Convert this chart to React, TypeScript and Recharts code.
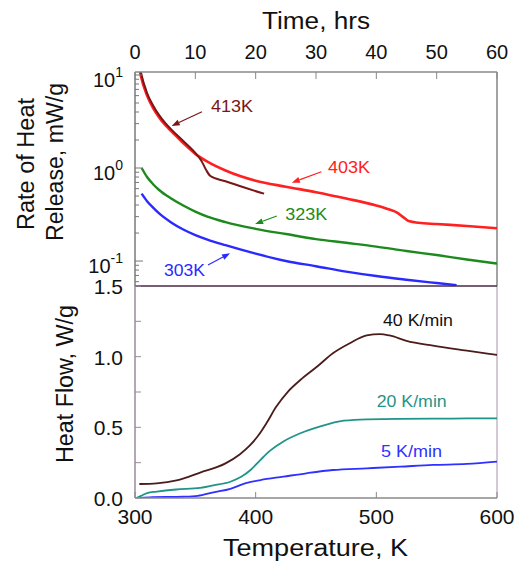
import React from 'react';
import { LineChart, Line, XAxis, YAxis, ReferenceLine, ReferenceDot } from 'recharts';

const FONT = '"Liberation Sans", Arial, Helvetica, sans-serif';

// top panel: rate of heat release (mW/g) vs time (hrs), log axis
const TIME_TICKS = [0, 10, 20, 30, 40, 50, 60];
const RATE_TICKS = [
  0.06, 0.07, 0.08, 0.09, 0.1, 0.2, 0.3, 0.4, 0.5, 0.6, 0.7, 0.8, 0.9,
  1, 2, 3, 4, 5, 6, 7, 8, 9, 10,
];
const RATE_MAJOR = [0.1, 1, 10];
const RATE_EXP = ['-1', '0', '1'];
const RATE_MIN = 0.0539;
const RATE_MAX = 10.77;

const K413: [number, number][] = [
  [0.7, 13], [1, 10.5], [2, 6.4], [3, 4.7], [4, 3.7], [5, 3.05], [6, 2.6], [8, 1.95],
  [10, 1.45], [11, 1.2], [11.8, 0.95], [12.5, 0.82], [15, 0.72], [18, 0.62], [21.4, 0.53],
];
const K403: [number, number][] = [
  [0.7, 12], [1, 9.6], [2, 6.0], [3, 4.4], [4, 3.5], [5, 2.9], [6, 2.5], [8, 1.85],
  [10, 1.42], [12, 1.17], [15, 0.94], [20, 0.73], [25, 0.63], [30, 0.55], [35, 0.47],
  [40, 0.395], [42, 0.36], [43.5, 0.33], [44.5, 0.295], [45.5, 0.267], [47, 0.258],
  [50, 0.25], [55, 0.238], [60, 0.225],
];
const K323: [number, number][] = [
  [1.1, 1.0], [2, 0.8], [3, 0.67], [4, 0.58], [6, 0.47], [8, 0.395], [10, 0.34],
  [12, 0.3], [15, 0.262], [20, 0.222], [25, 0.195], [30, 0.172], [35, 0.157],
  [40, 0.143], [45, 0.128], [50, 0.116], [55, 0.104], [60, 0.094],
];
const K303: [number, number][] = [
  [1.1, 0.53], [2, 0.44], [3, 0.375], [4, 0.325], [6, 0.26], [8, 0.218], [10, 0.19],
  [12, 0.17], [15, 0.148], [20, 0.12], [25, 0.1], [30, 0.088], [35, 0.077],
  [40, 0.069], [45, 0.063], [50, 0.058], [53.3, 0.055],
];

// bottom panel: heat flow (W/g) vs temperature (K)
const TEMP_TICKS = [300, 400, 500, 600];
const FLOW_TICKS = [0, 0.25, 0.5, 0.75, 1, 1.25, 1.5];

const R40: [number, number][] = [
  [303.6, 0.099], [318, 0.104], [334.5, 0.125], [354, 0.18], [375, 0.245], [387, 0.31],
  [395, 0.37], [402, 0.44], [409, 0.53], [417, 0.645], [427, 0.755], [437, 0.835],
  [451, 0.93], [464, 1.024], [478, 1.095], [492, 1.15], [503, 1.16], [511, 1.15],
  [525, 1.112], [547, 1.078], [575, 1.043], [600, 1.012],
];
const R20: [number, number][] = [
  [301, 0], [305, 0.015], [310, 0.035], [318, 0.045], [334, 0.06], [354, 0.072],
  [365, 0.09], [379, 0.115], [388, 0.15], [396, 0.2], [404, 0.27], [412, 0.335],
  [423, 0.4], [437, 0.458], [453, 0.505], [473, 0.547], [492, 0.557], [547, 0.561],
  [575, 0.564], [600, 0.564],
];
const R5: [number, number][] = [
  [301, 0], [312, 0.005], [340, 0.009], [352, 0.015], [365, 0.04], [379, 0.065],
  [390, 0.1], [404, 0.127], [423, 0.151], [442, 0.175], [464, 0.198], [492, 0.21],
  [520, 0.222], [547, 0.234], [575, 0.241], [600, 0.257],
];

const TOP_SERIES = [
  { name: '303K', pts: K303, color: '#2a2aff', width: 2.4 },
  { name: '323K', pts: K323, color: '#1c8a1c', width: 2.4 },
  { name: '403K', pts: K403, color: '#ff2020', width: 2.6 },
  { name: '413K', pts: K413, color: '#7a1616', width: 2 },
];
const BOTTOM_SERIES = [
  { name: '5 K/min', pts: R5, color: '#3030ff', width: 1.8 },
  { name: '20 K/min', pts: R20, color: '#1f9488', width: 1.8 },
  { name: '40 K/min', pts: R40, color: '#4a1c1c', width: 1.8 },
];

// annotation labels: text anchor point and arrow (from -> to), in data units
const TOP_NOTES = [
  { text: '413K', color: '#7a1616', at: [12.6, 4.53], len: 42, from: [11.1, 4.03], to: [6.08, 2.83] },
  { text: '403K', color: '#ff2020', at: [32.0, 1.025], len: 42, from: [30.9, 0.913], to: [26.0, 0.695] },
  { text: '323K', color: '#1c8a1c', at: [24.9, 0.32], len: 42, from: [23.5, 0.305], to: [19.9, 0.25] },
  { text: '303K', color: '#2a2aff', at: [4.8, 0.08], len: 41, from: [12.1, 0.0906], to: [15.75, 0.121] },
];
const BOTTOM_NOTES = [
  { text: '40 K/min', color: '#111111', at: [505.5, 1.255], len: 70 },
  { text: '20 K/min', color: '#1f9488', at: [500.3, 0.68], len: 70 },
  { text: '5 K/min', color: '#3030ff', at: [503.9, 0.328], len: 61 },
];

const rows = (pts: [number, number][], key: string) => pts.map(([a, v]) => ({ [key]: a, v }));

const arrowShape = (color: string) => (p: any) => {
  const { x1, y1, x2, y2 } = p;
  const ang = Math.atan2(y2 - y1, x2 - x1);
  const c = Math.cos(ang);
  const s = Math.sin(ang);
  const bx = x2 - 8 * c;
  const by = y2 - 8 * s;
  const pts = `${x2},${y2} ${bx - 3 * s},${by + 3 * c} ${bx + 3 * s},${by - 3 * c}`;
  return (
    <g>
      <line x1={x1} y1={y1} x2={bx} y2={by} stroke={color} strokeWidth={1.2} />
      <polygon points={pts} fill={color} />
    </g>
  );
};

const noteShape = (text: string, color: string, len: number) => (p: any) => (
  <text
    x={p.cx}
    y={p.cy}
    dominantBaseline="central"
    fontFamily={FONT}
    fontSize={16}
    fill={color}
    textLength={len}
    lengthAdjust="spacingAndGlyphs"
  >
    {text}
  </text>
);

const LogTick = (props: any) => {
  const { x, y, payload } = props;
  const idx = RATE_MAJOR.indexOf(payload.value);
  const major = idx >= 0;
  return (
    <g>
      <line x1={x} y1={y} x2={x + (major ? 8 : 4)} y2={y} stroke="#777" strokeWidth={1} />
      {major && (
        <text x={x - 12} y={y + 12} textAnchor="end" fontFamily={FONT} fontSize={20} fill="#111">
          10
          <tspan dy={-10} fontSize={14}>
            {RATE_EXP[idx]}
          </tspan>
        </text>
      )}
    </g>
  );
};

const TimeTick = (props: any) => {
  const { x, y, payload } = props;
  return (
    <g>
      <line x1={x} y1={y} x2={x} y2={y + 7} stroke="#888" strokeWidth={1} />
      <text x={x} y={y - 13} textAnchor="middle" fontFamily={FONT} fontSize={20} fill="#111">
        {payload.value}
      </text>
    </g>
  );
};

const FlowTick = (props: any) => {
  const { x, y, payload } = props;
  const v = payload.value as number;
  const major = Math.abs(v * 2 - Math.round(v * 2)) < 1e-6;
  return (
    <g>
      <line x1={x} y1={y} x2={x + 6} y2={y} stroke="#9a8a9a" strokeWidth={1} />
      {major && (
        <text x={x - 12} y={y + 8} textAnchor="end" fontFamily={FONT} fontSize={21} fill="#111">
          {v.toFixed(1)}
        </text>
      )}
    </g>
  );
};

const TempTick = (props: any) => {
  const { x, y, payload } = props;
  return (
    <g>
      <line x1={x} y1={y} x2={x} y2={y - 6} stroke="#888" strokeWidth={1} />
      <text x={x} y={y + 26} textAnchor="middle" fontFamily={FONT} fontSize={21} fill="#111">
        {payload.value}
      </text>
    </g>
  );
};

export default function App() {
  return (
    <div style={{ position: 'absolute', left: 0, top: 0, width: 525, height: 561, background: '#fff' }}>
      <div style={{ position: 'absolute', left: 0, top: 0 }}>
        <LineChart width={525} height={296} margin={{ top: 0, right: 28, bottom: 10, left: 0 }}>
          <XAxis
            xAxisId="t"
            type="number"
            dataKey="t"
            orientation="top"
            domain={[0, 60]}
            ticks={TIME_TICKS}
            interval={0}
            height={72}
            allowDataOverflow
            axisLine={{ stroke: '#8a8a8a', strokeWidth: 1.5 }}
            tickLine={false}
            tickSize={0}
            tickMargin={0}
            tick={(p: any) => <TimeTick {...p} />}
          />
          <YAxis
            yAxisId="r"
            type="number"
            scale="log"
            domain={[RATE_MIN, RATE_MAX]}
            ticks={RATE_TICKS}
            interval={0}
            width={135}
            allowDataOverflow
            axisLine={{ stroke: '#7a7a7a', strokeWidth: 1.5 }}
            tickLine={false}
            tickSize={0}
            tickMargin={0}
            tick={(p: any) => <LogTick {...p} />}
          />
          <ReferenceLine xAxisId="t" yAxisId="r" x={60} stroke="#666" strokeWidth={1.2} />
          {TOP_SERIES.map((s) => (
            <Line
              key={s.name}
              xAxisId="t"
              yAxisId="r"
              data={rows(s.pts, 't')}
              dataKey="v"
              type="monotone"
              stroke={s.color}
              strokeWidth={s.width}
              dot={false}
              isAnimationActive={false}
            />
          ))}
          {TOP_NOTES.map((n) => (
            <ReferenceLine
              key={'a' + n.text}
              xAxisId="t"
              yAxisId="r"
              segment={[
                { x: n.from[0], y: n.from[1] },
                { x: n.to[0], y: n.to[1] },
              ]}
              shape={arrowShape(n.color)}
            />
          ))}
          {TOP_NOTES.map((n) => (
            <ReferenceDot
              key={'n' + n.text}
              xAxisId="t"
              yAxisId="r"
              x={n.at[0]}
              y={n.at[1]}
              r={0}
              shape={noteShape(n.text, n.color, n.len)}
            />
          ))}
        </LineChart>
      </div>
      <div style={{ position: 'absolute', left: 0, top: 276 }}>
        <LineChart width={525} height={285} margin={{ top: 10, right: 28, bottom: 0, left: 0 }}>
          <XAxis
            xAxisId="T"
            type="number"
            dataKey="T"
            domain={[300, 600]}
            ticks={TEMP_TICKS}
            interval={0}
            height={63}
            allowDataOverflow
            axisLine={{ stroke: '#8a8a8a', strokeWidth: 1.5 }}
            tickLine={false}
            tickSize={0}
            tickMargin={0}
            tick={(p: any) => <TempTick {...p} />}
          />
          <YAxis
            yAxisId="f"
            type="number"
            domain={[0, 1.5]}
            ticks={FLOW_TICKS}
            interval={0}
            width={135}
            allowDataOverflow
            axisLine={{ stroke: '#9a8a9a', strokeWidth: 1.5 }}
            tickLine={false}
            tickSize={0}
            tickMargin={0}
            tick={(p: any) => <FlowTick {...p} />}
          />
          <ReferenceLine xAxisId="T" yAxisId="f" x={600} stroke="#b9a3b9" strokeWidth={1.2} />
          {BOTTOM_SERIES.map((s) => (
            <Line
              key={s.name}
              xAxisId="T"
              yAxisId="f"
              data={rows(s.pts, 'T')}
              dataKey="v"
              type="monotone"
              stroke={s.color}
              strokeWidth={s.width}
              dot={false}
              isAnimationActive={false}
            />
          ))}
          <ReferenceLine xAxisId="T" yAxisId="f" y={1.5} stroke="#4a2a45" strokeWidth={1.5} />
          {BOTTOM_NOTES.map((n) => (
            <ReferenceDot
              key={'n' + n.text}
              xAxisId="T"
              yAxisId="f"
              x={n.at[0]}
              y={n.at[1]}
              r={0}
              shape={noteShape(n.text, n.color, n.len)}
            />
          ))}
        </LineChart>
      </div>
      <svg
        width={525}
        height={561}
        style={{ position: 'absolute', left: 0, top: 0, pointerEvents: 'none' }}
      >
        <text x={316} y={29} textAnchor="middle" fontFamily={FONT} fontSize={23} fill="#111" textLength={108} lengthAdjust="spacingAndGlyphs">
          Time, hrs
        </text>
        <text x={315.5} y={556} textAnchor="middle" fontFamily={FONT} fontSize={23} fill="#111" textLength={185} lengthAdjust="spacingAndGlyphs">
          Temperature, K
        </text>
        <text transform="translate(34,164) rotate(-90)" textAnchor="middle" fontFamily={FONT} fontSize={23} fill="#111" textLength={132} lengthAdjust="spacingAndGlyphs">
          Rate of Heat
        </text>
        <text transform="translate(63,162) rotate(-90)" textAnchor="middle" fontFamily={FONT} fontSize={23} fill="#111" textLength={158} lengthAdjust="spacingAndGlyphs">
          Release, mW/g
        </text>
        <text transform="translate(73,384) rotate(-90)" textAnchor="middle" fontFamily={FONT} fontSize={23} fill="#111" textLength={158} lengthAdjust="spacingAndGlyphs">
          Heat Flow, W/g
        </text>
      </svg>
    </div>
  );
}
